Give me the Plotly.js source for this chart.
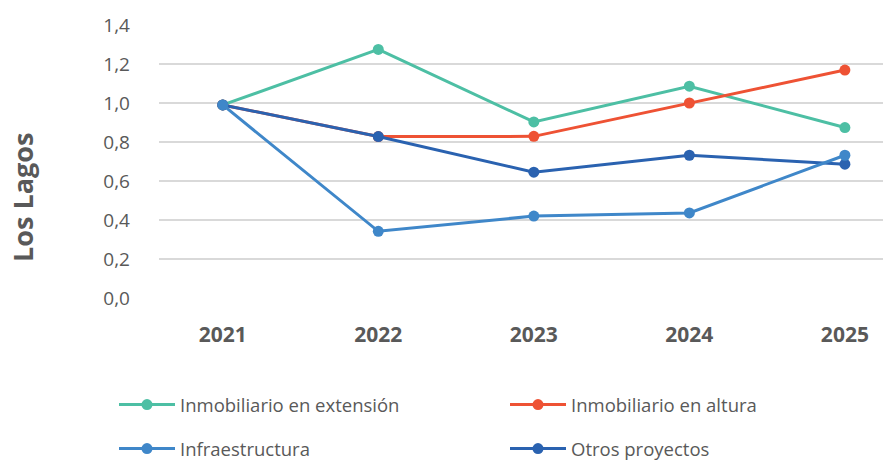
<!DOCTYPE html>
<html>
<head>
<meta charset="utf-8">
<script src="https://cdn.plot.ly/plotly-3.0.1.min.js"></script>
<style>html,body{margin:0;padding:0;background:#fff;}#chart{width:883px;height:460px;}</style>
</head>
<body>
<div id="chart"></div>
<script>
const years = ["2021", "2022", "2023", "2024", "2025"];
const extension = [0.99, 1.275, 0.903, 1.086, 0.874];
const altura = [0.99, 0.828, 0.829, 1.0, 1.169];
const infraestructura = [0.99, 0.342, 0.42, 0.436, 0.732];
const otros = [0.99, 0.828, 0.645, 0.732, 0.686];
const yTicks = [0, 0.2, 0.4, 0.6, 0.8, 1.0, 1.2, 1.4];
const yTickText = ["0,0", "0,2", "0,4", "0,6", "0,8", "1,0", "1,2", "1,4"];
const names = ["Inmobiliario en extensión", "Inmobiliario en altura", "Infraestructura", "Otros proyectos"];
const yTitle = "Los Lagos";

function tr(y, name, color, legend) {
  return {x: years, y: y, name: name, type: 'scatter', mode: 'lines+markers',
    line: {color: color, width: 3}, marker: {color: color, size: 11},
    legend: legend, cliponaxis: false};
}
const data = [
  tr(extension, names[0], '#4DBFA4', 'legend'),
  tr(altura, names[1], '#EE5234', 'legend2'),
  tr(otros, names[3], '#2A62B0', 'legend4'),
  tr(infraestructura, names[2], '#3F87C9', 'legend3')
];
function leg(px, py) {
  return {orientation: 'h', xref: 'container', yref: 'container', xanchor: 'left', yanchor: 'middle',
    x: px / 883, y: 1 - py / 460, itemwidth: 56,
    font: {family: 'Open Sans', size: 18.5, color: '#595959'}, bgcolor: 'rgba(0,0,0,0)'};
}
const layout = {
  width: 883, height: 460,
  margin: {l: 159, r: 0, t: 25, b: 162},
  paper_bgcolor: '#fff', plot_bgcolor: '#fff',
  showlegend: true,
  xaxis: {type: 'category', range: [-0.41, 4.245], showgrid: false, zeroline: false, showline: false,
    ticks: '', ticklabelstandoff: 22, tickfont: {family: 'Open Sans', size: 21, color: '#595959', weight: 'bold'}},
  yaxis: {range: [0, 1.4], tickvals: yTicks, ticktext: yTickText, showgrid: true, gridcolor: '#D9D9D9', gridwidth: 1.5,
    zeroline: false, showline: false, ticks: '', ticklabelstandoff: 28,
    tickfont: {family: 'Open Sans', size: 19, color: '#595959'}},
  legend: leg(114, 405),
  legend2: leg(505, 405),
  legend3: leg(114, 449),
  legend4: leg(505, 449),
  annotations: [{text: yTitle, xref: 'paper', yref: 'paper', x: (22 - 159) / 724, y: (298 - 198) / 273,
    xanchor: 'center', yanchor: 'middle', textangle: -90, showarrow: false,
    font: {family: 'Open Sans', size: 27, color: '#595959', weight: 'bold'}}]
};
Plotly.newPlot('chart', data, layout, {displayModeBar: false, staticPlot: true});
</script>
</body>
</html>
